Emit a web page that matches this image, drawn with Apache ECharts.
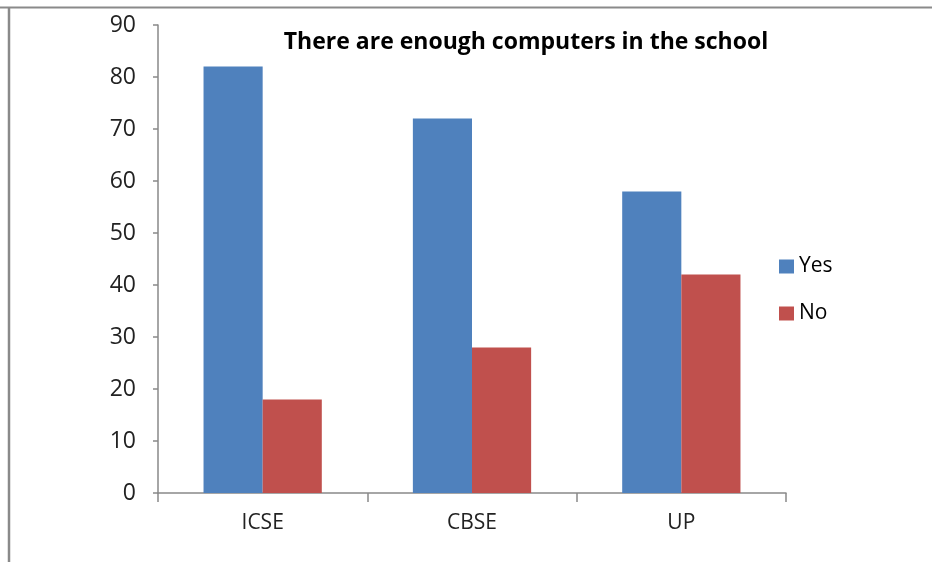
<!DOCTYPE html>
<html>
<head>
<meta charset="utf-8">
<script src="https://cdn.jsdelivr.net/npm/echarts@6/dist/echarts.min.js"></script>
<style>
  html, body { margin: 0; padding: 0; background: #fff; }
  #chart { width: 932px; height: 562px; }
</style>
</head>
<body>
<div id="chart"></div>
<script>
// Survey responses per board
const categories = ['ICSE', 'CBSE', 'UP'];
const yesValues = [82, 72, 58];
const noValues = [18, 28, 42];
const seriesNames = ['Yes', 'No'];
const titleText = 'There are enough computers in the school';

const chart = echarts.init(document.getElementById('chart'), null, { renderer: 'canvas' });

const labelFont = '"Open Sans", "DejaVu Sans", sans-serif';

chart.setOption({
  animation: false,
  backgroundColor: '#ffffff',
  title: {
    text: titleText,
    left: 521,
    textAlign: 'center',
    top: 26,
    textStyle: {
      fontFamily: labelFont,
      fontWeight: 'bold',
      fontSize: 23,
      color: '#000000'
    }
  },
  legend: {
    orient: 'vertical',
    left: 774,
    top: 251,
    itemWidth: 15,
    itemHeight: 14,
    itemGap: 26,
    icon: 'rect',
    textStyle: {
      fontFamily: labelFont,
      fontSize: 21,
      color: '#000000',
      padding: [0, 0, 0, 0]
    },
    data: seriesNames
  },
  grid: {
    left: 158,
    right: 932 - 786,
    top: 25,
    bottom: 562 - 493,
    containLabel: false
  },
  xAxis: {
    type: 'category',
    data: categories,
    axisLine: { lineStyle: { color: '#898989', width: 1.5 } },
    axisTick: { show: true, length: 9, lineStyle: { color: '#898989', width: 1.5 } },
    axisLabel: {
      fontFamily: labelFont,
      fontSize: 21,
      color: '#222222',
      margin: 20
    }
  },
  yAxis: {
    type: 'value',
    min: 0,
    max: 90,
    interval: 10,
    axisLine: { show: true, lineStyle: { color: '#898989', width: 1.5 } },
    axisTick: { show: true, length: 5, lineStyle: { color: '#898989', width: 1.5 } },
    splitLine: { show: false },
    axisLabel: {
      fontFamily: labelFont,
      fontSize: 23,
      color: '#222222',
      margin: 22
    }
  },
  series: [
    {
      name: seriesNames[0],
      type: 'bar',
      data: yesValues,
      barGap: '0%',
      barCategoryGap: '43.5%',
      itemStyle: { color: '#4f81bd' }
    },
    {
      name: seriesNames[1],
      type: 'bar',
      data: noValues,
      barGap: '0%',
      barCategoryGap: '43.5%',
      itemStyle: { color: '#c0504d' }
    }
  ],
  graphic: [
    {
      type: 'line',
      shape: { x1: 0, y1: 7.5, x2: 932, y2: 7.5 },
      style: { stroke: '#8a8a8a', lineWidth: 2 }
    },
    {
      type: 'line',
      shape: { x1: 9, y1: 7, x2: 9, y2: 562 },
      style: { stroke: '#8a8a8a', lineWidth: 2.5 }
    }
  ]
});
</script>
</body>
</html>
